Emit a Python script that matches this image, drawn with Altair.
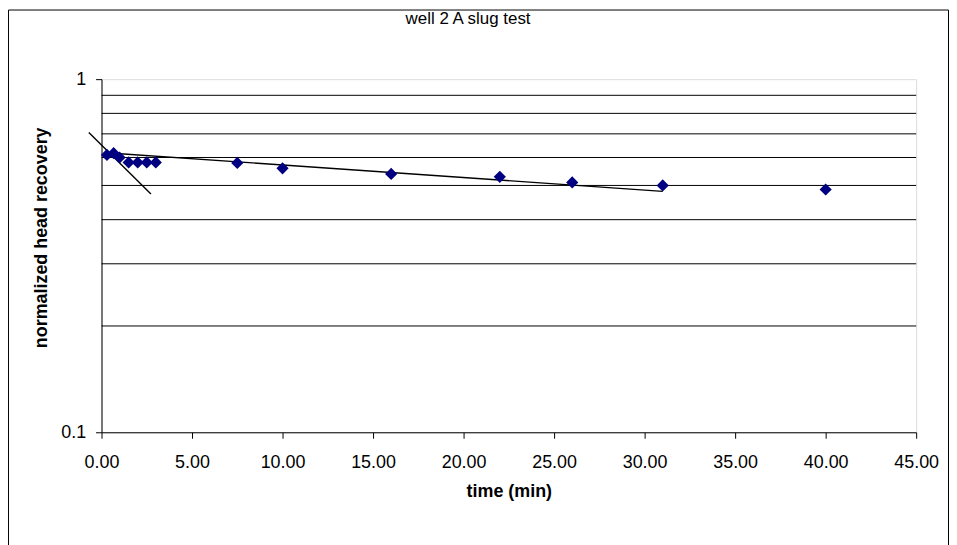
import altair as alt
import pandas as pd

# measured data
time_min = [0.3, 0.67, 1.0, 1.5, 2.0, 2.5, 3.0, 7.5, 10.0, 16.0, 22.0, 26.0, 31.0, 40.0]
head = [0.61, 0.617, 0.60, 0.581, 0.581, 0.581, 0.581, 0.579, 0.559, 0.539, 0.529, 0.51, 0.50, 0.487]

# hand-drawn fit lines
fit_late_t = [0.44, 31.0]
fit_late_v = [0.618, 0.481]
fit_early_t = [-0.7, 2.73]
fit_early_v = [0.706, 0.473]

grid_vals = [0.2, 0.3, 0.4, 0.5, 0.6, 0.7, 0.8, 0.9]
x_ticks = [0, 5, 10, 15, 20, 25, 30, 35, 40, 45]
y_ticks = [0.1, 1]

FONT = "Liberation Sans"

pts = pd.DataFrame({"t": time_min, "h": head})
fits = pd.DataFrame({
    "t": fit_late_t + fit_early_t,
    "h": fit_late_v + fit_early_v,
    "g": ["late"] * 2 + ["early"] * 2,
})
grid = pd.DataFrame({"h": grid_vals})

xs = alt.Scale(domain=[0, 45], nice=False, zero=False)
ys = alt.Scale(type="log", domain=[0.1, 1], nice=False)

x_axis = alt.Axis(
    values=x_ticks, format=".2f", grid=False, title="time (min)",
    tickSize=6, labelPadding=15, labelFontSize=18, labelFont=FONT, labelFlush=False,
    labelColor="black", titleFont=FONT, titleFontSize=18, titleFontWeight="bold",
    titleColor="black", titlePadding=12, domainColor="black", tickColor="black",
)
y_axis = alt.Axis(
    values=y_ticks, format="~g", grid=False, title="normalized head recovery",
    tickSize=6, labelPadding=10, labelFontSize=18, labelFont=FONT,
    labelColor="black", titleFont=FONT, titleFontSize=18, titleFontWeight="bold",
    titleColor="black", titleY=159, titleX=-51, titleAngle=270,
    titleBaseline="bottom", domainColor="black", tickColor="black",
)

border = alt.Chart(pd.DataFrame({"k": [0]})).mark_rect(
    filled=False, stroke="black", strokeWidth=1, clip=False
).encode(
    x=alt.value(-93.5), x2=alt.value(851.5), y=alt.value(-69.5), y2=alt.value(700)
)

gridlines = alt.Chart(grid).mark_rule(color="black", strokeWidth=1).encode(
    y=alt.Y("h:Q", scale=ys, axis=y_axis)
)

lines = alt.Chart(fits).mark_line(color="black", strokeWidth=1.4).encode(
    x=alt.X("t:Q", scale=xs, axis=x_axis),
    y=alt.Y("h:Q", scale=ys, axis=y_axis),
    detail="g:N",
)

points = alt.Chart(pts).mark_point(
    shape="diamond", filled=True, color="#000080", size=150, opacity=1
).encode(
    x=alt.X("t:Q", scale=xs, axis=x_axis),
    y=alt.Y("h:Q", scale=ys, axis=y_axis),
)

chart = alt.layer(border, gridlines, lines, points).properties(
    width=819,
    height=355,
    autosize=alt.AutoSizeParams(type="none"),
    padding={"left": 94, "top": 70, "right": 33, "bottom": 150},
    title=alt.TitleParams(
        "well 2 A slug test", font=FONT, fontSize=17, fontWeight="normal",
        color="black", anchor="middle", offset=-19, dx=-41,
    ),
).configure_view(stroke="#808080", strokeWidth=1).configure(background="white")

chart.save("out.html", embed_options={"renderer": "svg", "actions": False})
